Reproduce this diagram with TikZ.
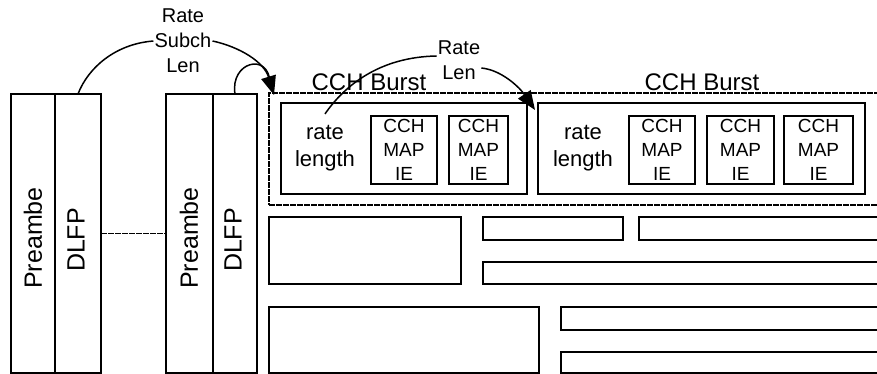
\documentclass[tikz,border=0pt]{standalone}
\usepackage{fontspec}
\setmainfont{Liberation Sans}
\usetikzlibrary{arrows.meta,fit}

\tikzset{
  blk/.style={draw, line width=2pt, inner sep=0pt, outer sep=0pt},
  dsh/.style={draw, line width=1.3pt, dash pattern=on 6pt off 1pt, inner sep=0pt, outer sep=0pt},
  lnk/.style={line width=1.5pt},
  arr/.style={-{Triangle[length=19pt,width=15pt]}},
  frm/.style={rotate=90, inner sep=0pt, font=\fontsize{25}{25}\selectfont},
  hdr/.style={inner sep=0pt, font=\fontsize{24}{24}\selectfont},
  rl/.style={inner sep=0pt, align=center, font=\fontsize{22}{27}\selectfont},
  ie/.style={inner sep=0pt, align=center, font=\fontsize{19}{24}\selectfont},
  ptr/.style={inner sep=1pt, align=center, font=\fontsize{20}{25}\selectfont},
}

\begin{document}
\begin{tikzpicture}[x=1pt, y=-1pt]
    \clip (0,0) rectangle (877,374);

    % frames
    \node[blk, fit={(11,94) (55,373)}] (pre1) {};
    \node[blk, fit={(55,94) (101,373)}] (dlfp1) {};
    \node[blk, fit={(166,94) (213,373)}] (pre2) {};
    \node[blk, fit={(213,94) (257,373)}] (dlfp2) {};

    \node[frm] (pre1t) at (33,238) {Preambe};
    \node[frm] (dlfp1t) at (76,240) {DLFP};
    \node[frm] (pre2t) at (189,238) {Preambe};
    \node[frm] (dlfp2t) at (233,240) {DLFP};

    \draw[dsh] (dlfp1.east) -- (pre2.west);

    % CCH bursts
    \node[dsh, fit={(269,93) (900,205)}] (cch) {};
    \node[blk, fit={(281,103) (527,194)}] (bst1) {};
    \node[blk, fit={(538,103) (865,194)}] (bst2) {};

    \node[hdr] (hd1) at (369,82) {CCH Burst};
    \node[hdr] (hd2) at (702,82) {CCH Burst};

    \node[rl] (rl1) at (325,148) {rate\\length};
    \node[rl] (rl2) at (583,148) {rate\\length};

    \node[blk, fit={(371,116) (437,184)}] (map1) {};
    \node[blk, fit={(449,116) (508,184)}] (map2) {};
    \node[blk, fit={(629,116) (695,184)}] (map3) {};
    \node[blk, fit={(707,116) (774,184)}] (map4) {};
    \node[blk, fit={(784,116) (853,184)}] (map5) {};
    \foreach \m in {1,...,5}
        \node[ie] (map\m t) at (map\m) {CCH\\MAP\\IE};

    % data bursts
    \node[blk, fit={(269,217) (461,284)}] (db1) {};
    \node[blk, fit={(269,307) (539,373)}] (db2) {};
    \node[blk, fit={(483,217) (623,240)}] (db3) {};
    \node[blk, fit={(639,217) (900,240)}] (db4) {};
    \node[blk, fit={(483,262) (900,284)}] (db5) {};
    \node[blk, fit={(561,307) (900,330)}] (db6) {};
    \node[blk, fit={(561,352) (900,373)}] (db7) {};

    % pointers
    \node[ptr] (rsl) at (183,41) {Rate\\Subch\\Len};
    \node[ptr] (rtl) at (459,60) {Rate\\Len};
    \coordinate (tip1) at (274,95);
    \coordinate (tip2) at (535,110);

    \draw[lnk] (dlfp1.north) .. controls (88,68) and (115,44) .. (rsl.west);
    \draw[lnk, arr] (rsl.east) .. controls (240,47) and (264,62) .. (tip1);
    \draw[lnk] (dlfp2.north) .. controls (230,62) and (268,52) .. (270,82);

    \draw[lnk] ([yshift=11pt]rl1.north) .. controls (345,85) and (380,57) .. ([yshift=4pt]rtl.west);
    \draw[lnk, arr] ([yshift=-8pt]rtl.east) .. controls (502,70) and (520,88) .. (tip2);
\end{tikzpicture}
\end{document}
